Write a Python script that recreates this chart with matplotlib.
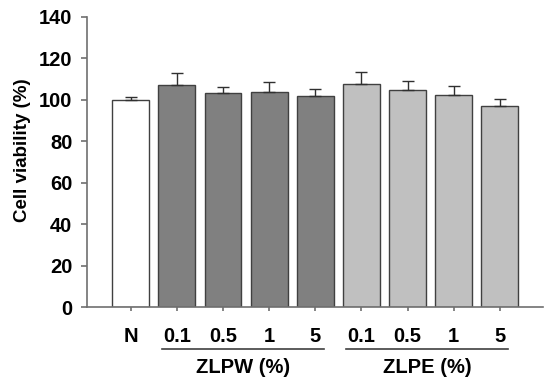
import numpy as np
import matplotlib.pyplot as plt
import matplotlib.transforms as mtransforms

plt.rcParams['font.family'] = ['Liberation Sans', 'DejaVu Sans']
plt.rcParams['font.weight'] = 'bold'

# --- Data ---
tick_labels = ['N', '0.1', '0.5', '1', '5', '0.1', '0.5', '1', '5']
viability = [100.0, 107.3, 103.5, 103.9, 102.0, 107.7, 104.8, 102.4, 97.0]
errors = [1.2, 5.8, 2.7, 4.7, 3.1, 5.8, 4.2, 4.1, 3.3]
bar_colors = ['#ffffff'] + ['#808080'] * 4 + ['#c0c0c0'] * 4
groups = ['ZLPW (%)', 'ZLPE (%)']
group_members = [(1, 4), (5, 8)]

# --- Plot ---
fig = plt.figure(figsize=(5.5, 3.84), dpi=100)
ax = fig.add_axes([0.158, 0.2, 0.829, 0.756])

x = np.arange(len(viability))
ax.bar(x, viability, width=0.8, color=bar_colors, edgecolor='#404040', linewidth=1.0, zorder=2)
ax.errorbar(x, viability, yerr=[np.zeros(len(errors)), errors], fmt='none',
            ecolor='#303030', elinewidth=1.0, capsize=4, capthick=1.0, zorder=3)

ax.set_xlim(-0.95, 8.93)
ax.set_ylim(0, 140)
ax.set_yticks(np.arange(0, 141, 20))
ax.set_xticks(x)
ax.set_xticklabels(tick_labels, fontsize=14.5, fontweight='bold')
for lbl in ax.get_yticklabels():
    lbl.set_fontsize(14.5)
    lbl.set_fontweight('bold')

ax.spines['top'].set_visible(False)
ax.spines['right'].set_visible(False)
for s in ['left', 'bottom']:
    ax.spines[s].set_color('#707070')
    ax.spines[s].set_linewidth(1.2)
ax.tick_params(axis='y', direction='out', length=4.5, width=1.2, color='#707070', pad=6)
ax.tick_params(axis='x', direction='out', length=3, width=1.2, color='#707070', pad=11)

ax.set_ylabel('Cell viability (%)', fontsize=13.5, fontweight='bold', va='center')
ax.yaxis.set_label_coords(-0.142, 0.54)

# group brackets under tick labels
trans = mtransforms.blended_transform_factory(ax.transData, ax.transAxes)
for name, (a, b) in zip(groups, group_members):
    ax.plot([a - 0.33, b + 0.18], [-0.145, -0.145], color='#404040', lw=1.2,
            transform=trans, clip_on=False)
    ax.text((a - 0.33 + b + 0.18) / 2, -0.207, name, transform=trans,
            ha='center', va='center', fontsize=14.5, fontweight='bold')

fig.savefig('out.png', dpi=100)
